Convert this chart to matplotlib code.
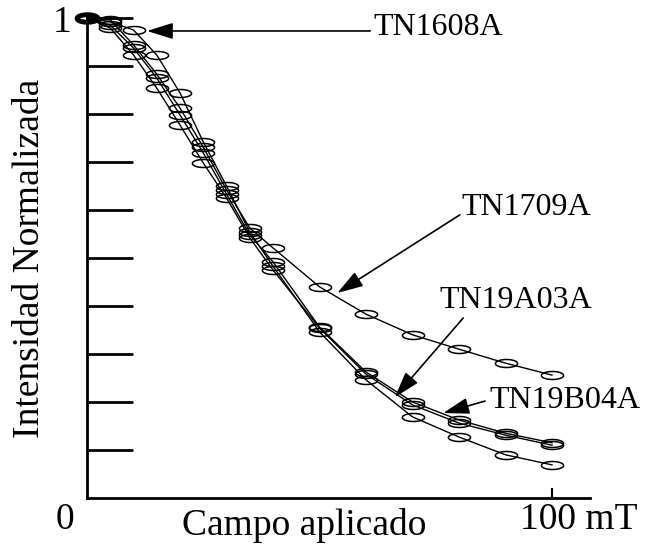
import numpy as np
import matplotlib
matplotlib.use("Agg")
import matplotlib.pyplot as plt
from matplotlib.path import Path

# Data
campo = [0, 5, 10, 15, 20, 25, 30, 35, 40, 50, 60, 70, 80, 90, 100]
tn1608a = [1.0, 0.992, 0.975, 0.923, 0.844, 0.742, 0.650, 0.554, 0.483, 0.346, 0.246, 0.169, 0.127, 0.090, 0.069]
tn1709a = [1.0, 0.996, 0.944, 0.883, 0.8125, 0.731, 0.642, 0.5625, 0.521, 0.440, 0.383, 0.340, 0.310, 0.281, 0.256]
tn19a03a = [1.0, 0.985, 0.9375, 0.875, 0.798, 0.719, 0.633, 0.548, 0.492, 0.356, 0.2625, 0.200, 0.1625, 0.135, 0.115]
tn19b04a = [1.0, 0.979, 0.923, 0.854, 0.777, 0.698, 0.625, 0.542, 0.475, 0.354, 0.258, 0.194, 0.156, 0.131, 0.110]
series = [tn1608a, tn1709a, tn19a03a, tn19b04a]
ytick_vals = [0.1, 0.2, 0.3, 0.4, 0.5, 0.6, 0.7, 0.8, 0.9, 1.0]

# labels: (text, text_xy, arrow_start, arrow_tip)
labels = [
    ("TN1608A", (61.5, 0.981), (60.9, 0.973), (12.9, 0.973)),
    ("TN1709A", (80.6, 0.606), (80.2, 0.590), (53.8, 0.427)),
    ("TN19A03A", (75.9, 0.4125), (80.9, 0.375), (66.2, 0.210)),
    ("TN19B04A", (86.5, 0.204), (85.6, 0.202), (76.6, 0.177)),
]

plt.rcParams['font.family'] = ['Liberation Serif', 'DejaVu Serif']

fig = plt.figure(figsize=(6.45, 5.46), dpi=100)
ax = fig.add_axes([87/645, 48/546, 503/645, 480/546])
ax.set_xlim(0, 503/4.65)
ax.set_ylim(0, 1.0)

t = np.linspace(0, 2*np.pi, 60)
ell = Path(np.column_stack([np.cos(t), 0.36*np.sin(t)]))

for s in series:
    ax.plot(campo, s, color='black', lw=1.0, marker=ell, markersize=16,
            markerfacecolor='none', markeredgecolor='black', markeredgewidth=1.1,
            clip_on=False, zorder=3)
# overlapping origin points drawn heavier
ax.plot(campo[:1], tn1608a[:1], linestyle='none', marker=ell, markersize=15,
        markerfacecolor='none', markeredgecolor='black', markeredgewidth=3.5,
        clip_on=False, zorder=4)

for sp in ['top', 'right']:
    ax.spines[sp].set_visible(False)
ax.spines['left'].set_linewidth(2)
ax.spines['bottom'].set_linewidth(2)

ax.set_yticks(ytick_vals)
ax.set_yticklabels([])
ax.tick_params(axis='y', direction='in', length=33, width=2)
ax.set_xticks([100])
ax.set_xticklabels([])
ax.tick_params(axis='x', direction='in', length=7, width=1.5)

fs = 27
ax.text(-3.3, 0.99, "1", ha='right', va='center', fontsize=fs)
ax.text(-4.7, -0.045, "0", ha='center', va='center', fontsize=fs)
ax.text(105.8, -0.045, "100 mT", ha='center', va='center', fontsize=fs)
ax.text(46.7, -0.058, "Campo aplicado", ha='center', va='center', fontsize=fs)
fig.text(30/645, 1 - 258/546, "Intensidad Normalizada", rotation=90,
         ha='center', va='center', fontsize=fs)

for name, txy, start, tip in labels:
    ax.text(txy[0], txy[1], name, ha='left', va='center', fontsize=23)
    ax.annotate("", xy=tip, xytext=start,
                arrowprops=dict(arrowstyle='-|>,head_length=0.8,head_width=0.25',
                                color='black', lw=1.2, mutation_scale=20,
                                shrinkA=0, shrinkB=0))

fig.savefig("out.png", dpi=100)
